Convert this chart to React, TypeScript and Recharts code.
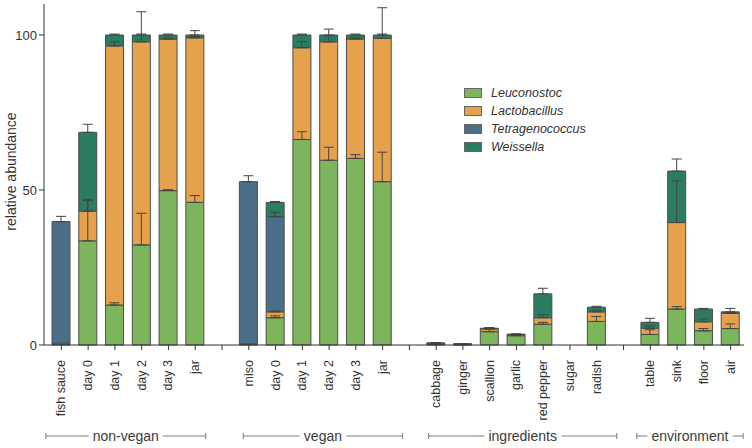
import { BarChart, Bar, XAxis, YAxis, ErrorBar, Legend } from "recharts";

// x categories, "" = spacer slot between sample groups
const labels = [
  "fish sauce", "day 0", "day 1", "day 2", "day 3", "jar", "",
  "miso", "day 0", "day 1", "day 2", "day 3", "jar", "",
  "cabbage", "ginger", "scallion", "garlic", "red pepper", "sugar", "radish", "",
  "table", "sink", "floor", "air",
];

const groups = [
  { name: "non-vegan", first: 0, last: 5 },
  { name: "vegan", first: 7, last: 12 },
  { name: "ingredients", first: 14, last: 20 },
  { name: "environment", first: 22, last: 25 },
];

// mean relative abundance (%) per genus
const leuconostoc = [0.3, 33.6, 12.9, 32.3, 49.8, 46.0, null, 0.2, 8.8, 66.3, 59.6, 60.2, 52.7, null, 0.2, 0.1, 4.3, 3.0, 6.7, 0, 7.6, null, 3.4, 11.6, 4.6, 5.3];
const lactobacillus = [0.3, 9.6, 83.6, 65.5, 48.9, 53.1, null, 0.2, 1.9, 29.6, 38.2, 38.5, 46.2, null, 0.3, 0.2, 0.9, 0.3, 2.1, 0, 3.1, null, 2.0, 27.9, 2.9, 4.9];
const tetragenococcus = [39.2, 0, 0, 0, 0, 0, null, 52.3, 30.7, 0, 0, 0, 0, null, 0, 0, 0, 0, 0, 0, 0, null, 0, 0, 0, 0];
const weissella = [0, 25.4, 3.5, 2.2, 1.3, 0.9, null, 0, 4.6, 4.1, 2.2, 1.3, 1.1, null, 0.2, 0.1, 0.2, 0.2, 7.7, 0, 1.5, null, 1.9, 16.6, 4.1, 0.5];

// upper error (SD) drawn above each segment
const leuconostocErr = [null, 13.0, 0.7, 10.2, 0.3, 2.2, null, null, 0.6, 2.5, 4.2, 1.2, 9.5, null, 0.1, null, 0.8, 0.2, 0.6, null, 1.6, null, 1.5, 0.8, 0.7, 1.5];
const lactobacillusErr = [null, 3.8, 1.3, 2.5, 0.3, 0.4, null, null, 0.3, 2.0, 2.0, 0.4, 1.4, null, 0.2, 0.1, 0.3, 0.1, 0.9, null, 0.5, null, 0.8, 13.4, 0.9, 0.3];
const tetragenococcusErr = [1.7, null, null, null, null, null, null, 1.9, 1.4, null, null, null, null, null, null, null, null, null, null, null, null, null, null, null, null, null];
const weissellaErr = [null, 2.6, 0.3, 7.5, 0.3, 1.4, null, null, 0.3, 0.3, 1.9, 0.3, 8.8, null, 0.1, null, 0.2, 0.1, 1.8, null, 0.3, null, 1.3, 3.9, 0.2, 1.1];

const yTicks = [0, 50, 100];

const series = [
  { key: "leuconostoc", name: "Leuconostoc", color: "#7cb55c" },
  { key: "lactobacillus", name: "Lactobacillus", color: "#e6a14c" },
  { key: "tetragenococcus", name: "Tetragenococcus", color: "#4b6e89" },
  { key: "weissella", name: "Weissella", color: "#2a7d62" },
];

const up = (v: number | null) => (v == null ? null : [0, v]);

const data = labels.map((label, i) => ({
  id: String(i),
  label,
  leuconostoc: leuconostoc[i],
  lactobacillus: lactobacillus[i],
  tetragenococcus: tetragenococcus[i],
  weissella: weissella[i],
  leuconostocErr: up(leuconostocErr[i]),
  lactobacillusErr: up(lactobacillusErr[i]),
  tetragenococcusErr: up(tetragenococcusErr[i]),
  weissellaErr: up(weissellaErr[i]),
}));

// layout
const W = 752;
const H = 448;
const Y_AXIS_W = 44;
const PLOT_W = 700;
const PAD_L = 4;
const BAND = (PLOT_W - PAD_L) / labels.length;
const bracketPad: Record<string, [number, number]> = {
  "non-vegan": [15.5, 10.5],
  vegan: [5.5, 20],
  ingredients: [7.5, 20],
  environment: [13.5, 12.5],
};

function CategoryTick(props: any) {
  const { x, y, payload } = props;
  const i = payload.index;
  const label = labels[i];
  const g = groups.find((gr) => gr.first === i);
  let bracket = null;
  if (g) {
    const [pl, pr] = bracketPad[g.name];
    const x0 = x - pl;
    const x1 = x + (g.last - g.first) * BAND + pr;
    const by = y + 76;
    bracket = (
      <g>
        <line x1={x0} x2={x1} y1={by} y2={by} stroke="#7a7a7a" strokeWidth={1} />
        <line x1={x0} x2={x0} y1={by - 3} y2={by + 3} stroke="#7a7a7a" strokeWidth={1} />
        <line x1={x1} x2={x1} y1={by - 3} y2={by + 3} stroke="#7a7a7a" strokeWidth={1} />
        <text
          x={(x0 + x1) / 2}
          y={by}
          textAnchor="middle"
          dominantBaseline="central"
          fontSize={14}
          fill="#3a3a3a"
          stroke="#fff"
          strokeWidth={10}
          strokeLinejoin="round"
          paintOrder="stroke"
        >
          {g.name}
        </text>
      </g>
    );
  }
  return (
    <g>
      {label && (
        <text
          transform={`translate(${x},${y}) rotate(-90)`}
          textAnchor="end"
          dominantBaseline="central"
          fontSize={12.5}
          fill="#333"
        >
          {label}
        </text>
      )}
      {bracket}
    </g>
  );
}

function YLabel(props: any) {
  const vb = props.viewBox || { x: 0, y: 4, height: 341 };
  const cx = 11;
  const cy = vb.y + vb.height / 2 - 3;
  return (
    <text
      x={cx}
      y={cy}
      transform={`rotate(-90 ${cx} ${cy})`}
      textAnchor="middle"
      dominantBaseline="central"
      fontSize={14}
      fill="#333"
    >
      relative abundance
    </text>
  );
}

function GenusLegend() {
  return (
    <div>
      {series.map((s) => (
        <div key={s.key} style={{ display: "flex", alignItems: "center", height: 18 }}>
          <span
            style={{
              display: "inline-block",
              width: 16,
              height: 8,
              background: s.color,
              border: "1px solid #666",
              marginRight: 9,
            }}
          />
          <span style={{ fontStyle: "italic", fontSize: 12.5, color: "#333" }}>{s.name}</span>
        </div>
      ))}
    </div>
  );
}

export default function App() {
  return (
    <div
      style={{
        position: "fixed",
        left: 0,
        top: 0,
        width: W,
        height: H,
        background: "#fff",
        fontFamily: '"Liberation Sans", Arial, sans-serif',
      }}
    >
      <BarChart
        width={W}
        height={H}
        data={data}
        margin={{ top: 4, right: W - Y_AXIS_W - PLOT_W, bottom: 0, left: 0 }}
        barSize={18}
      >
        <XAxis
          dataKey="id"
          interval={0}
          height={103}
          tickSize={5}
          tickMargin={10}
          padding={{ left: PAD_L, right: 0 }}
          axisLine={{ stroke: "#333" }}
          tickLine={{ stroke: "#333" }}
          tick={<CategoryTick />}
        />
        <XAxis xAxisId="err" dataKey="id" hide padding={{ left: PAD_L, right: 0 }} />
        <YAxis
          width={Y_AXIS_W}
          domain={[0, 110]}
          ticks={yTicks}
          tickSize={5}
          axisLine={{ stroke: "#333" }}
          tickLine={{ stroke: "#333" }}
          tick={{ fontSize: 13, fill: "#333" }}
          label={<YLabel />}
        />
        <Legend
          layout="vertical"
          align="center"
          verticalAlign="middle"
          wrapperStyle={{ left: 464, top: 84, width: 140, height: 72 }}
          content={<GenusLegend />}
        />
        {series.map((s) => (
          <Bar
            key={s.key}
            dataKey={s.key}
            name={s.name}
            stackId="a"
            fill={s.color}
            stroke="#4d4d4d"
            strokeWidth={1}
            isAnimationActive={false}
          />
        ))}
        {series.map((s) => (
          <Bar
            key={s.key + "-err"}
            xAxisId="err"
            dataKey={s.key}
            stackId="b"
            fill="transparent"
            legendType="none"
            isAnimationActive={false}
          >
            <ErrorBar
              dataKey={s.key + "Err"}
              width={5}
              stroke="#444"
              strokeWidth={1}
              isAnimationActive={false}
            />
          </Bar>
        ))}
      </BarChart>
    </div>
  );
}
